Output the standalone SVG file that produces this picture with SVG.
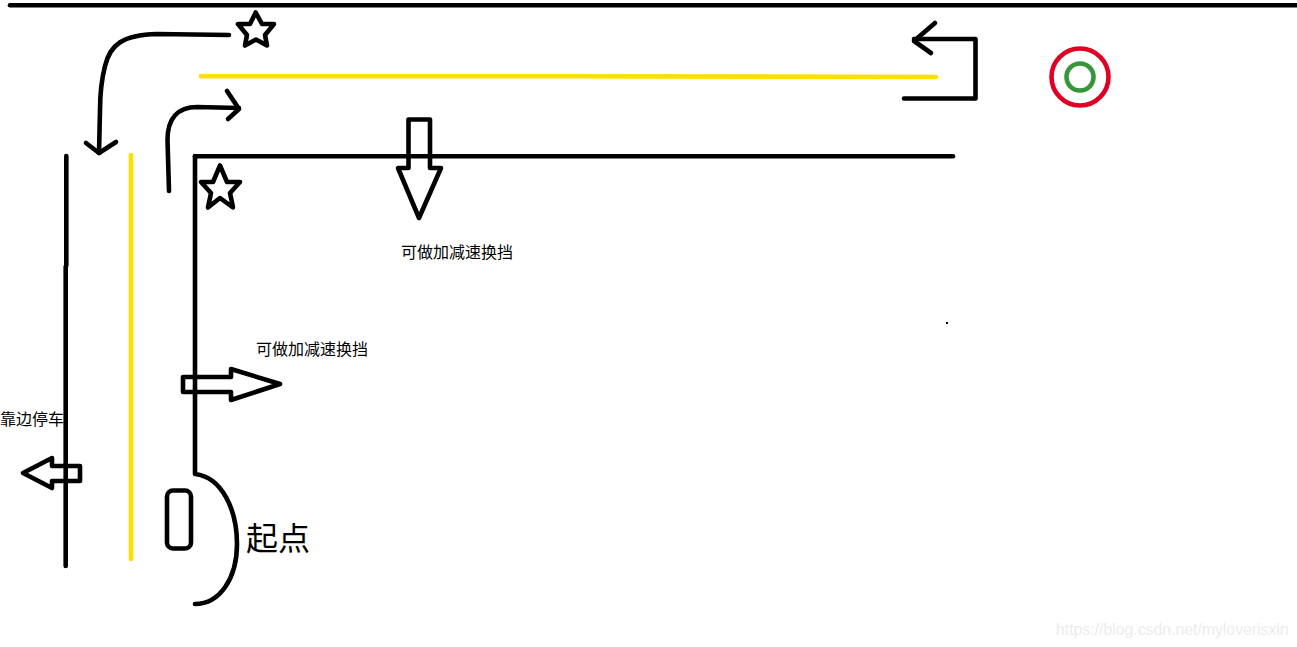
<svg xmlns="http://www.w3.org/2000/svg" width="1297" height="647" viewBox="0 0 1297 647">
<style>
.k{fill:none;stroke:#000;stroke-width:4.600;stroke-linecap:round;stroke-linejoin:round}
.y{fill:none;stroke:#ffdf00;stroke-width:4.600;stroke-linecap:round}
.t{font-family:"Noto Sans CJK SC","Liberation Sans",sans-serif;font-size:16px;fill:#000}
</style>
<rect width="1297" height="647" fill="#fff"/>
<g id="road-lines">
<path class="k" d="M10 5.300H1297"/>
<path class="k" d="M66.300 156V265L65.700 267V566"/>
<path class="k" d="M195 156.300H953"/>
<path class="k" d="M195 156V474C222 477 237 510 237 544C237 578 220 604 195 604"/>
<path class="y" d="M201 76.300H568L936 77"/>
<path class="y" d="M131 155V559"/>
</g>
<g id="connectors">
<path class="k" d="M229 35L157 34C122 35 110 45 105 66C101 82 100 95 100 110L99 153"/>
<path class="k" d="M86 143L99 153L116 142"/>
<path class="k" d="M169 191L167.500 140C167.500 118 178 107 197 107L239 108"/>
<path class="k" d="M227 91L239 109L228 119"/>
<path class="k" d="M904 98.500H975.500V39H914"/>
<path class="k" d="M935 23L914 41L931 53"/>
</g>
<g id="star-top"><path class="k" d="M255.700 12.500L262 24H274L265 35L267 45.500L256 39.500L245 45.500L247 35L238 24H250Z"/></g>
<g id="star-corner"><path class="k" d="M220 165.500L227 182H240L230 193L233 207.500L220 198L208 207.500L211 193L201 182H213Z"/></g>
<g id="arrow-down"><path class="k" d="M408.500 119.500H430V168H441L419 218L398 168H408.500Z"/></g>
<g id="arrow-right"><path class="k" d="M183 377H231V369L280 384L231 400V392H183Z"/></g>
<g id="arrow-left"><path class="k" d="M80 466H52V458L23 473L52 488V481H80Z"/></g>
<g id="start-box"><rect class="k" x="167" y="490.500" width="24" height="58" rx="6"/></g>
<g id="target">
<circle cx="1080" cy="77" r="28.500" fill="none" stroke="#e00024" stroke-width="4.600"/>
<circle cx="1080" cy="77" r="13.500" fill="none" stroke="#36963a" stroke-width="4.600"/>
</g>
<g id="dot"><rect x="946" y="322" width="2" height="2" fill="#000"/></g>
<g id="labels">
<text class="t" x="401" y="258">可做加减速换挡</text>
<text class="t" x="256" y="355">可做加减速换挡</text>
<text class="t" x="0" y="425">靠边停车</text>
<text class="t" x="246" y="550" style="font-size:32px">起点</text>
<text x="1056" y="635" style="font-family:'Liberation Sans',Arial,sans-serif;font-size:15.800px;fill:#ececec">https://blog.csdn.net/myloverisxin</text>
</g>
</svg>
